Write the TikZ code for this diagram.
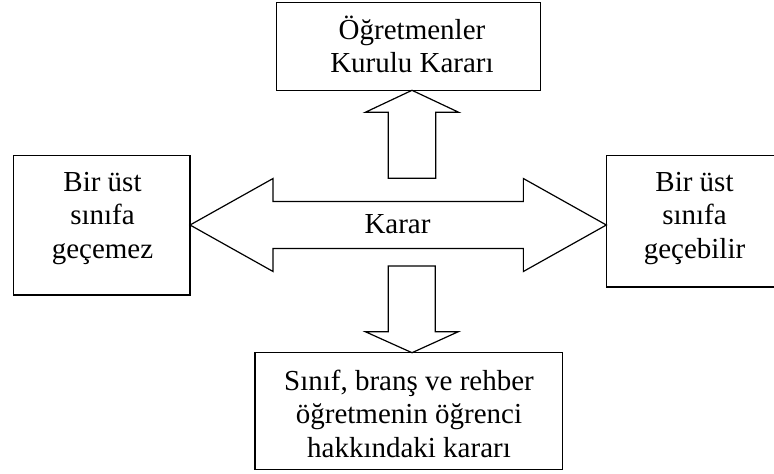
\documentclass[tikz,border=0pt]{standalone}
\usepackage{fontspec}
\setmainfont{Liberation Serif}

\tikzset{
    kutu/.style={draw, line width=1.2pt, inner sep=0pt, outer sep=0pt},
    yazi/.style={align=center, inner sep=0pt, anchor=base, font=\fontsize{29}{33.5}\selectfont},
    blokok/.style={draw, line width=1.2pt, line join=miter}
}

\begin{document}
\begin{tikzpicture}[x=1pt,y=-1pt]
    \clip (0,0) rectangle (774,474); % sayfa sinirlari
    \node[kutu, minimum width=264pt, minimum height=87.6pt] (ust) at (408.7,46.5) {};
    \node[kutu, minimum width=176.7pt, minimum height=139.3pt] (sol) at (101.7,225.3) {};
    \node[kutu, minimum width=176.7pt, minimum height=131.3pt] (sag) at (694.6,221.3) {}; % sag kenar disarida kalir
    \node[kutu, minimum width=307.3pt, minimum height=116.6pt] (alt) at (408.7,411) {};
    \coordinate (orta) at (412,225);

    % yazilar: son satirin taban cizgisinde
    \node[yazi] (usty) at (412,72.5) {Öğretmenler\\Kurulu Kararı};
    \node[yazi] (soly) at (102.5,258.3) {Bir üst\\sınıfa\\geçemez};
    \node[yazi] (sagy) at (694.5,258.3) {Bir üst\\sınıfa\\geçebilir};
    \node[yazi] (alty) at (409,457) {Sınıf, branş ve rehber\\öğretmenin öğrenci\\hakkındaki kararı};

    % yukari ok
    \draw[blokok] (ust.south -| orta) -- ++(46.7,22) -- ++(-23,0) -- ++(0,66) -- ++(-47.4,0)
        -- ++(0,-66) -- ++(-23,0) -- cycle;
    % asagi ok
    \draw[blokok] (alt.north -| orta) -- ++(46.3,-21) -- ++(-23,0) -- ++(0,-65.7) -- ++(-47,0)
        -- ++(0,65.7) -- ++(-23,0) -- cycle;
    % iki yonlu ok
    \draw[blokok] (sol.east |- orta) -- ++(83,-46.5) -- ++(0,23) -- ++(250.3,0) -- ++(0,-23)
        -- ++(83,46.5) -- ++(-83,46.5) -- ++(0,-23) -- ++(-250.3,0) -- ++(0,23) -- cycle;
    \node[yazi] (karar) at (397.5,233.3) {Karar};
\end{tikzpicture}
\end{document}
